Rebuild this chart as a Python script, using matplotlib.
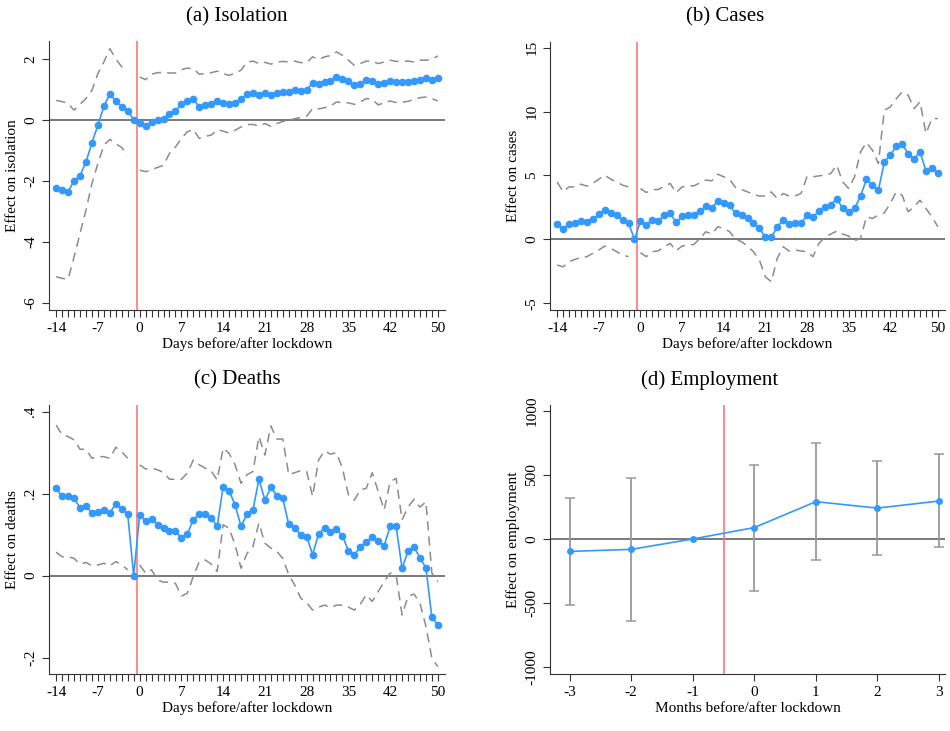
import matplotlib
matplotlib.use("Agg")
import matplotlib.pyplot as plt
import numpy as np

plt.rcParams['font.family'] = ['Liberation Serif', 'DejaVu Serif']

# dias relativos ao lockdown (-1 = periodo de referencia)
days = np.arange(-14, 51)
nan = np.nan

# (a) isolamento
iso = [-2.25, -2.3, -2.36, -2.0, -1.83, -1.38, -0.75, -0.17, 0.44, 0.86, 0.62, 0.43, 0.3, 0.0,
       -0.1, -0.19, -0.08, -0.01, 0.03, 0.19, 0.3, 0.52, 0.63, 0.68, 0.43, 0.48, 0.51, 0.63, 0.56,
       0.51, 0.57, 0.68, 0.84, 0.89, 0.82, 0.89, 0.81, 0.89, 0.93, 0.91, 0.99, 0.96, 0.99, 1.21,
       1.17, 1.25, 1.28, 1.4, 1.33, 1.27, 1.13, 1.19, 1.31, 1.29, 1.17, 1.22, 1.29, 1.24, 1.25,
       1.25, 1.28, 1.32, 1.36, 1.32, 1.37]
iso_hi = [0.64, 0.6, 0.54, 0.32, 0.51, 0.7, 0.97, 1.52, 1.9, 2.34, 2.0, 1.74, 1.74, nan,
          1.41, 1.32, 1.5, 1.55, 1.56, 1.54, 1.54, 1.65, 1.7, 1.68, 1.5, 1.52, 1.55, 1.6, 1.52,
          1.46, 1.54, 1.63, 1.9, 1.93, 1.85, 1.89, 1.83, 1.9, 1.92, 1.9, 1.93, 1.88, 1.88, 2.07,
          1.98, 2.07, 2.11, 2.23, 2.12, 1.96, 1.79, 1.85, 1.93, 1.92, 1.85, 1.9, 1.96, 1.92, 1.92,
          1.93, 1.9, 1.96, 1.96, 1.99, 2.1]
iso_lo = [-5.15, -5.2, -5.23, -4.5, -3.73, -2.96, -2.09, -1.43, -0.83, -0.64, -0.78, -0.91, -1.16, nan,
          -1.65, -1.7, -1.63, -1.56, -1.49, -1.1, -0.89, -0.61, -0.39, -0.31, -0.61, -0.54, -0.5,
          -0.32, -0.37, -0.43, -0.34, -0.23, -0.15, -0.15, -0.2, -0.12, -0.21, -0.12, -0.05, -0.01,
          0.04, 0.08, 0.12, 0.37, 0.36, 0.4, 0.45, 0.59, 0.56, 0.56, 0.51, 0.59, 0.7, 0.68, 0.49,
          0.57, 0.62, 0.57, 0.58, 0.61, 0.67, 0.73, 0.75, 0.7, 0.62]

# (b) casos
cases = [1.22, 0.81, 1.2, 1.25, 1.46, 1.38, 1.61, 1.95, 2.27, 2.03, 1.88, 1.48, 1.3, 0.0,
         1.43, 1.15, 1.54, 1.46, 1.9, 2.03, 1.33, 1.8, 1.88, 1.9, 2.21, 2.6, 2.45, 3.02, 2.86,
         2.66, 2.03, 1.93, 1.64, 1.25, 0.89, 0.16, 0.18, 0.94, 1.54, 1.2, 1.3, 1.25, 1.88, 1.72,
         2.24, 2.53, 2.71, 3.2, 2.42, 2.14, 2.42, 3.39, 4.69, 4.24, 3.85, 6.04, 6.61, 7.27, 7.5,
         6.67, 6.3, 6.85, 5.34, 5.57, 5.16]
cases_hi = [4.5, 3.72, 4.11, 4.11, 4.32, 4.17, 4.38, 4.71, 5.03, 4.71, 4.5, 4.24, 4.11, nan,
            3.98, 3.67, 3.9, 3.9, 4.17, 4.38, 3.65, 4.11, 4.19, 4.19, 4.43, 4.64, 4.58, 5.1, 4.9,
            4.69, 4.06, 3.9, 3.72, 3.52, 3.39, 3.39, 3.72, 3.2, 3.59, 3.39, 3.41, 3.59, 4.9, 4.9,
            4.97, 5.03, 5.16, 5.81, 4.5, 3.98, 4.9, 6.85, 7.58, 6.98, 5.94, 10.1, 10.36, 11.0,
            11.54, 11.28, 10.23, 10.76, 8.28, 9.45, 9.45]
cases_lo = [-2.0, -2.14, -1.74, -1.56, -1.41, -1.35, -1.09, -0.83, -0.52, -0.7, -0.96, -1.22, -1.35, nan,
            -1.04, -1.35, -0.96, -0.89, -0.57, -0.31, -0.89, -0.52, -0.44, -0.39, 0.08, 0.6, 0.42,
            0.99, 0.86, 0.6, 0.0, -0.18, -0.52, -0.96, -1.61, -2.92, -3.31, -1.48, -0.57, -0.91,
            -0.83, -0.91, -0.96, -1.35, -0.31, 0.16, 0.42, 0.65, 0.42, 0.26, -0.1, 0.08, 1.77, 1.64,
            1.9, 2.08, 2.81, 3.72, 3.46, 2.16, 2.55, 3.07, 2.42, 1.77, 0.99]

# (c) obitos
deaths = [0.213, 0.193, 0.193, 0.189, 0.165, 0.169, 0.153, 0.156, 0.159, 0.153, 0.175, 0.163, 0.149, 0.0,
          0.148, 0.132, 0.138, 0.124, 0.117, 0.108, 0.109, 0.092, 0.102, 0.136, 0.151, 0.15, 0.141,
          0.12, 0.217, 0.207, 0.172, 0.12, 0.15, 0.16, 0.235, 0.184, 0.215, 0.195, 0.188, 0.125,
          0.117, 0.098, 0.095, 0.051, 0.101, 0.117, 0.107, 0.113, 0.097, 0.061, 0.051, 0.07, 0.083,
          0.094, 0.085, 0.073, 0.12, 0.12, 0.018, 0.059, 0.07, 0.043, 0.019, -0.102, -0.12]
deaths_hi = [0.367, 0.343, 0.339, 0.331, 0.308, 0.308, 0.286, 0.29, 0.29, 0.286, 0.313, 0.302, 0.286, nan,
             0.27, 0.26, 0.262, 0.258, 0.251, 0.235, 0.235, 0.235, 0.25, 0.282, 0.27, 0.262, 0.255,
             0.233, 0.311, 0.298, 0.27, 0.225, 0.246, 0.254, 0.339, 0.294, 0.365, 0.333, 0.333,
             0.246, 0.251, 0.256, 0.254, 0.193, 0.282, 0.304, 0.296, 0.3, 0.262, 0.197, 0.184,
             0.209, 0.213, 0.251, 0.205, 0.16, 0.229, 0.237, 0.136, 0.167, 0.186, 0.167, 0.18,
             0.006, -0.015]
deaths_lo = [0.057, 0.046, 0.046, 0.042, 0.028, 0.032, 0.024, 0.026, 0.03, 0.024, 0.034, 0.026, 0.014, nan,
             0.026, 0.006, 0.014, -0.011, -0.016, -0.016, -0.019, -0.05, -0.043, -0.002, 0.034,
             0.038, 0.028, 0.01, 0.124, 0.115, 0.075, 0.018, 0.054, 0.071, 0.128, 0.079, 0.067,
             0.059, 0.042, 0.002, -0.023, -0.055, -0.066, -0.084, -0.077, -0.072, -0.078, -0.072,
             -0.072, -0.077, -0.084, -0.07, -0.047, -0.063, -0.039, -0.015, 0.006, 0.002, -0.096,
             -0.051, -0.045, -0.067, -0.124, -0.202, -0.222]

# (d) emprego (meses)
months = [-3, -2, -1, 0, 1, 2, 3]
emp = [-97, -81, 0, 89, 291, 241, 296]
emp_hi = [322, 474, nan, 579, 749, 610, 662]
emp_lo = [-511, -636, nan, -403, -165, -123, -65]

BLUE = '#3399ff'
GRAY = '#8c8c8c'
RED = '#ff7777'
ZERO = '#555555'

day_labels = [-14, -7, 0, 7, 14, 21, 28, 35, 42, 50]


def style_axes(ax):
    for s in ['top', 'right']:
        ax.spines[s].set_visible(False)
    ax.spines['left'].set_color('#333333')
    ax.spines['bottom'].set_color('#333333')
    ax.tick_params(axis='both', direction='out', length=5, width=0.8, color='#333333',
                   labelsize=11)
    ax.tick_params(axis='y', labelrotation=90)
    for lab in ax.get_yticklabels():
        lab.set_va('center')


def daily_panel(ax, y, lo, hi, yticks, ylabels, ylim, ylabel):
    ax.axhline(0, color=ZERO, lw=1.1, zorder=1)
    ax.axvline(-0.5, color=RED, lw=1.2, zorder=1)
    ax.plot(days, hi, color=GRAY, ls=(0, (6, 4)), lw=1.1)
    ax.plot(days, lo, color=GRAY, ls=(0, (6, 4)), lw=1.1)
    ax.plot(days, y, color=BLUE, lw=1.2, marker='o', ms=4.5, zorder=3)
    ax.set_xlim(-15.2, 51.2)
    ax.set_ylim(*ylim)
    ax.set_xticks(days)
    ax.set_xticklabels([str(d) if d in day_labels else '' for d in days])
    ax.set_yticks(yticks)
    ax.set_yticklabels(ylabels)
    ax.set_xlabel('Days before/after lockdown', fontsize=11, labelpad=2)
    ax.set_ylabel(ylabel, fontsize=11, labelpad=4)
    style_axes(ax)


fig = plt.figure(figsize=(9.5, 7.31), dpi=100)
W, H = 950, 731


def box(l, t, r, b):
    return [l / W, 1 - b / H, (r - l) / W, (b - t) / H]


ax_a = fig.add_axes(box(49, 41, 445, 310))
ax_b = fig.add_axes(box(550, 42, 945, 310))
ax_c = fig.add_axes(box(49, 405, 445, 674))
ax_d = fig.add_axes(box(550, 405, 945, 674))

daily_panel(ax_a, iso, iso_lo, iso_hi, [-6, -4, -2, 0, 2], ['-6', '-4', '-2', '0', '2'],
            (-6.24, 2.59), 'Effect on isolation')
daily_panel(ax_b, cases, cases_lo, cases_hi, [-5, 0, 5, 10, 15], ['-5', '0', '5', '10', '15'],
            (-5.52, 15.44), 'Effect on cases')
daily_panel(ax_c, deaths, deaths_lo, deaths_hi, [-0.2, 0, 0.2, 0.4], ['-.2', '0', '.2', '.4'],
            (-0.24, 0.416), 'Effect on deaths')

# painel mensal com barras de erro
ax_d.axhline(0, color=ZERO, lw=1.1, zorder=1)
ax_d.axvline(-0.5, color=RED, lw=1.2, zorder=1)
m = np.array(months, dtype=float)
e = np.array(emp, dtype=float)
hi = np.array(emp_hi)
lo = np.array(emp_lo)
ok = ~np.isnan(hi)
ax_d.errorbar(m[ok], e[ok], yerr=[e[ok] - lo[ok], hi[ok] - e[ok]], fmt='none',
              ecolor='#999999', elinewidth=1.3, capsize=3.5, capthick=1.1, zorder=2)
ax_d.plot(m, e, color=BLUE, lw=1.2, marker='o', ms=4, zorder=3)
ax_d.set_xlim(-3.32, 3.1)
ax_d.set_ylim(-1053, 1045)
ax_d.set_xticks(months)
ax_d.set_xticklabels([str(v) for v in months])
ax_d.set_yticks([-1000, -500, 0, 500, 1000])
ax_d.set_yticklabels(['-1000', '-500', '0', '500', '1000'])
ax_d.set_xlabel('Months before/after lockdown', fontsize=11, labelpad=2)
ax_d.set_ylabel('Effect on employment', fontsize=11, labelpad=4)
style_axes(ax_d)

fig.text(237 / W, 1 - 17 / H, '(a) Isolation', ha='center', va='center', fontsize=15)
fig.text(725 / W, 1 - 17 / H, '(b) Cases', ha='center', va='center', fontsize=15)
fig.text(237 / W, 1 - 380 / H, '(c) Deaths', ha='center', va='center', fontsize=15)
fig.text(710 / W, 1 - 380 / H, '(d) Employment', ha='center', va='center', fontsize=15)

fig.savefig('out.png', dpi=100, facecolor='white')
